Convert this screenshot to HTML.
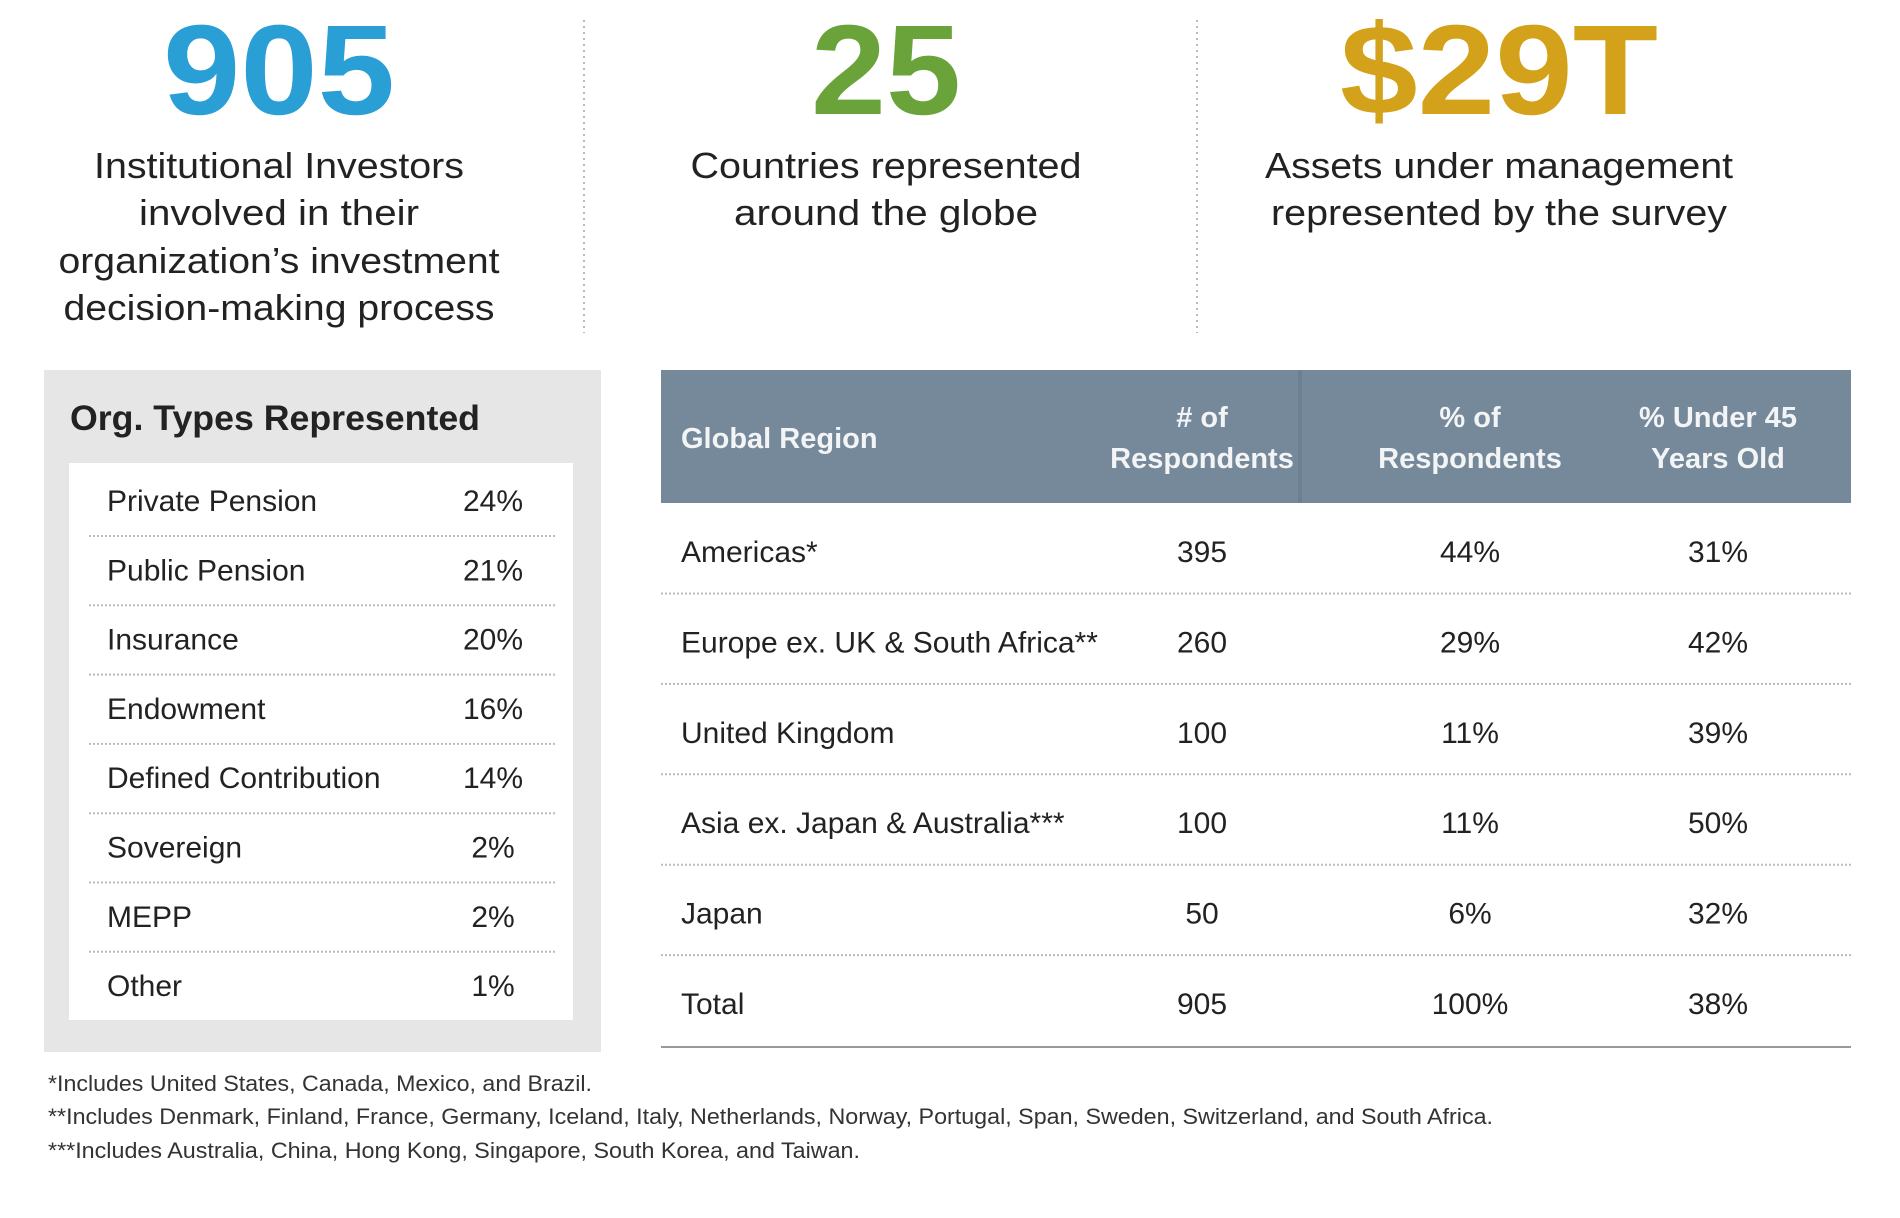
<!DOCTYPE html>
<html><head><meta charset="utf-8"><style>
html,body{margin:0;padding:0;background:#fff;}
svg{display:block;font-family:"Liberation Sans",sans-serif;}
</style></head><body>
<svg id="s" width="1900" height="1218" viewBox="0 0 1900 1218">
<g>
<text x="279" y="114" text-anchor="middle" font-size="128" font-weight="bold" fill="#2a9fd6" textLength="232" lengthAdjust="spacingAndGlyphs">905</text>
<g font-size="36" fill="#222" text-anchor="middle">
<text x="279" y="178" textLength="370" lengthAdjust="spacingAndGlyphs">Institutional Investors</text>
<text x="279" y="225" textLength="280" lengthAdjust="spacingAndGlyphs">involved in their</text>
<text x="279" y="273" textLength="441" lengthAdjust="spacingAndGlyphs">organization’s investment</text>
<text x="279" y="320" textLength="431" lengthAdjust="spacingAndGlyphs">decision-making process</text>
</g></g>
<line x1="584" y1="20" x2="584" y2="333" stroke="#bbb" stroke-width="2" stroke-dasharray="2,4"/>
<g>
<text x="886" y="114" text-anchor="middle" font-size="128" font-weight="bold" fill="#6aa33a" textLength="150" lengthAdjust="spacingAndGlyphs">25</text>
<g font-size="36" fill="#222" text-anchor="middle">
<text x="886" y="178" textLength="391" lengthAdjust="spacingAndGlyphs">Countries represented</text>
<text x="886" y="225" textLength="304" lengthAdjust="spacingAndGlyphs">around the globe</text>
</g></g>
<line x1="1197" y1="20" x2="1197" y2="333" stroke="#bbb" stroke-width="2" stroke-dasharray="2,4"/>
<g>
<text x="1499" y="114" text-anchor="middle" font-size="128" font-weight="bold" fill="#d4a21a" textLength="318" lengthAdjust="spacingAndGlyphs">$29T</text>
<g font-size="36" fill="#222" text-anchor="middle">
<text x="1499" y="178" textLength="468" lengthAdjust="spacingAndGlyphs">Assets under management</text>
<text x="1499" y="225" textLength="456" lengthAdjust="spacingAndGlyphs">represented by the survey</text>
</g></g>

<g>
<rect x="44" y="370" width="557" height="682" fill="#e6e6e6"/>
<text x="70" y="430" font-size="35" font-weight="bold" fill="#222" textLength="410" lengthAdjust="spacingAndGlyphs">Org. Types Represented</text>
<rect x="69" y="463" width="504" height="557" fill="#fff"/>
<g id="orgRows"></g>
</g>

<g>
<rect x="661" y="370" width="1190" height="133" fill="#75899a"/>
<rect x="1298" y="370" width="4" height="133" fill="#6d8091"/>
<g font-size="29" font-weight="bold" fill="#f2f4f6" text-anchor="middle">
<text x="681" y="448" text-anchor="start">Global Region</text>
<text x="1202" y="427"># of</text>
<text x="1202" y="468">Respondents</text>
<text x="1470" y="427">% of</text>
<text x="1470" y="468">Respondents</text>
<text x="1718" y="427">% Under 45</text>
<text x="1718" y="468">Years Old</text>
</g>
<g id="regRows"></g>
<line x1="661" y1="1047" x2="1851" y2="1047" stroke="#999" stroke-width="2"/>
</g>

<g font-size="22" fill="#333">
<text x="48" y="1091" textLength="544" lengthAdjust="spacingAndGlyphs">*Includes United States, Canada, Mexico, and Brazil.</text>
<text x="48" y="1124" textLength="1445" lengthAdjust="spacingAndGlyphs">**Includes Denmark, Finland, France, Germany, Iceland, Italy, Netherlands, Norway, Portugal, Span, Sweden, Switzerland, and South Africa.</text>
<text x="48" y="1158" textLength="812" lengthAdjust="spacingAndGlyphs">***Includes Australia, China, Hong Kong, Singapore, South Korea, and Taiwan.</text>
</g>
</svg>
<script>
const orgTypes = ["Private Pension","Public Pension","Insurance","Endowment","Defined Contribution","Sovereign","MEPP","Other"];
const orgShares = [24,21,20,16,14,2,2,1];
const regions = ["Americas*","Europe ex. UK & South Africa**","United Kingdom","Asia ex. Japan & Australia***","Japan","Total"];
const regionCounts = [395,260,100,100,50,905];
const regionShares = [44,29,11,11,6,100];
const regionUnder45 = [31,42,39,50,32,38];
const NS="http://www.w3.org/2000/svg";
function mk(tag,attrs,txt){const e=document.createElementNS(NS,tag);for(const k in attrs)e.setAttribute(k,attrs[k]);if(txt!==undefined)e.textContent=txt;return e;}
const og=document.getElementById('orgRows');
const orgY0=501, orgStep=69.3;
orgTypes.forEach((t,i)=>{
  const y=orgY0+i*orgStep;
  const l=mk('text',{x:107,y:y+10,'font-size':30,fill:'#222'},t);
  
  
  og.appendChild(l);
  const v=mk('text',{x:493,y:y+10,'font-size':30,fill:'#222','text-anchor':'middle'},orgShares[i]+'%');
  
  
  og.appendChild(v);
  if(i<orgTypes.length-1){
    const s=mk('line',{x1:89,x2:555,y1:y+35,y2:y+35,stroke:'#bbb','stroke-width':2,'stroke-dasharray':'2,2'});
    
    
    og.appendChild(s);
  }
});
const rg=document.getElementById('regRows');
const regY0=551, regStep=90.4;
regions.forEach((r,i)=>{
  const y=regY0+i*regStep;
  const l=mk('text',{x:681,y:y+11,'font-size':30,fill:'#222'},r);
  
  
  rg.appendChild(l);
  const c=mk('text',{x:1202,y:y+11,'font-size':30,fill:'#222','text-anchor':'middle'},regionCounts[i]);
  
  
  rg.appendChild(c);
  const p=mk('text',{x:1470,y:y+11,'font-size':30,fill:'#222','text-anchor':'middle'},regionShares[i]+'%');
  
  
  rg.appendChild(p);
  const u=mk('text',{x:1718,y:y+11,'font-size':30,fill:'#222','text-anchor':'middle'},regionUnder45[i]+'%');
  
  
  rg.appendChild(u);
  if(i<regions.length-1){
    const s=mk('line',{x1:661,x2:1851,y1:y+42.5,y2:y+42.5,stroke:'#bbb','stroke-width':2,'stroke-dasharray':'2,2'});
    
    
    rg.appendChild(s);
  }
});
</script>
</body></html>
